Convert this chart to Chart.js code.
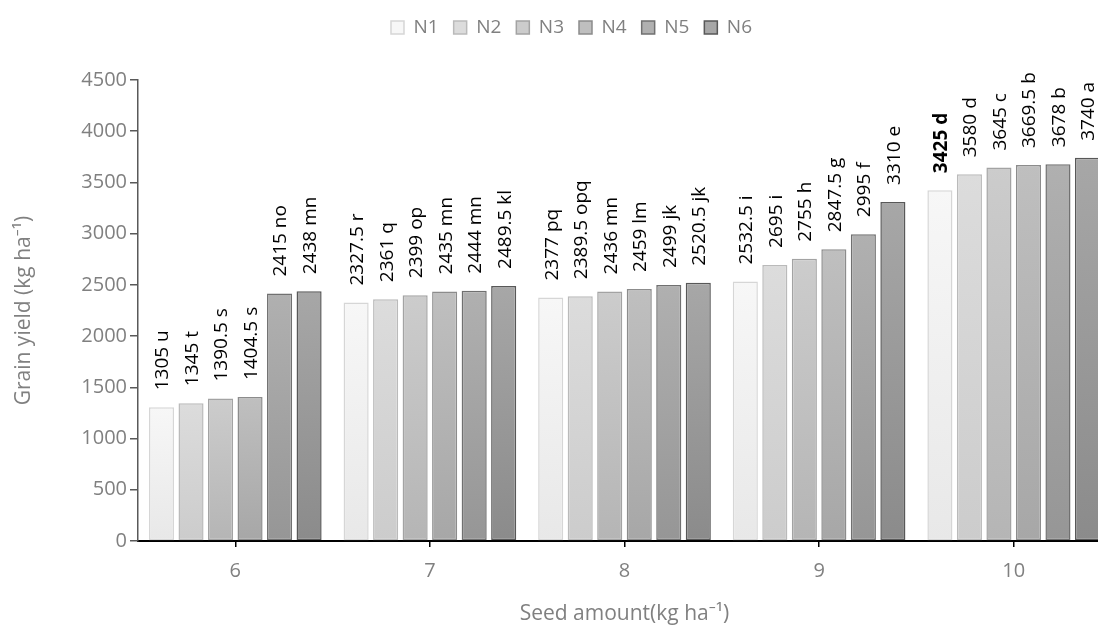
<!DOCTYPE html>
<html>
<head>
<meta charset="utf-8">
<script src="https://cdn.jsdelivr.net/npm/chart.js@4.4.0/dist/chart.umd.min.js"></script>
<style>
  html, body { margin: 0; padding: 0; background: #fff; overflow: hidden; }
  #wrap { width: 1098px; height: 639px; overflow: hidden; }
</style>
</head>
<body>
<div id="wrap"><canvas id="myChart" width="1111" height="639"></canvas></div>
<script>
// seed amount groups
var categories = ['6', '7', '8', '9', '10'];
var seriesNames = ['N1', 'N2', 'N3', 'N4', 'N5', 'N6'];

// grain yield per series (kg ha-1)
var n1 = [1305, 2327.5, 2377, 2532.5, 3425];
var n2 = [1345, 2361, 2389.5, 2695, 3580];
var n3 = [1390.5, 2399, 2436, 2755, 3645];
var n4 = [1404.5, 2435, 2459, 2847.5, 3669.5];
var n5 = [2415, 2444, 2499, 2995, 3678];
var n6 = [2438, 2489.5, 2520.5, 3310, 3740];

// significance letters
var n1Letters = ['u', 'r', 'pq', 'i', 'd'];
var n2Letters = ['t', 'q', 'opq', 'i', 'd'];
var n3Letters = ['s', 'op', 'mn', 'h', 'c'];
var n4Letters = ['s', 'mn', 'lm', 'g', 'b'];
var n5Letters = ['no', 'mn', 'jk', 'f', 'b'];
var n6Letters = ['mn', 'kl', 'jk', 'e', 'a'];

var yMin = 0, yMax = 4500, yStep = 500;

var seriesValues = [n1, n2, n3, n4, n5, n6];
var seriesLetters = [n1Letters, n2Letters, n3Letters, n4Letters, n5Letters, n6Letters];

// top / bottom gradient colours and borders
var fills = [
  ['#f7f7f7', '#e8e8e8'],
  ['#dcdcdc', '#cccccc'],
  ['#cccccc', '#b5b5b5'],
  ['#bfbfbf', '#a7a7a7'],
  ['#b0b0b0', '#969696'],
  ['#a7a7a7', '#8b8b8b']
];
var borders = ['#d6d6d6', '#bababa', '#a3a3a3', '#8c8c8c', '#707070', '#585858'];
var boldCell = { series: 0, index: 4 };

var FONT = "'Open Sans', 'Noto Sans', sans-serif";
var GREY = '#808080';
var LEGEND_DX = 16, LEGEND_DY = 33;

function barFill(i) {
  return function (c) {
    var chart = c.chart;
    if (c.type !== 'data' || !chart.chartArea || !chart.scales.y) return fills[i][1];
    var y = chart.scales.y;
    var top = y.getPixelForValue(c.raw);
    var bottom = y.getPixelForValue(0);
    var g = chart.ctx.createLinearGradient(0, top, 0, bottom);
    g.addColorStop(0, fills[i][0]);
    g.addColorStop(1, fills[i][1]);
    return g;
  };
}

var datasets = seriesNames.map(function (name, i) {
  return {
    label: name,
    data: seriesValues[i],
    backgroundColor: barFill(i),
    borderColor: borders[i],
    borderWidth: 1.5,
    borderSkipped: false,
    categoryPercentage: 0.91,
    barPercentage: 0.85
  };
});

var barLabels = {
  id: 'barLabels',
  afterDatasetsDraw: function (chart) {
    var ctx = chart.ctx;
    chart.data.datasets.forEach(function (ds, i) {
      var meta = chart.getDatasetMeta(i);
      meta.data.forEach(function (bar, j) {
        var bold = (i === boldCell.series && j === boldCell.index);
        ctx.save();
        ctx.translate(bar.x + 1.5, bar.y - 17);
        ctx.rotate(-Math.PI / 2);
        ctx.font = (bold ? 'bold ' : '') + '19px ' + FONT;
        ctx.fillStyle = '#000';
        ctx.textAlign = 'left';
        ctx.textBaseline = 'middle';
        ctx.fillText(ds.data[j] + ' ' + seriesLetters[i][j], 0, 0);
        ctx.restore();
      });
    });
  }
};

// move the legend to where it sits in the original
var legendShift = {
  id: 'legendShift',
  afterLayout: function (chart) {
    var lg = chart.legend;
    lg.left += LEGEND_DX; lg.right += LEGEND_DX;
    lg.top -= LEGEND_DY; lg.bottom -= LEGEND_DY;
  }
};

var ctx = document.getElementById('myChart').getContext('2d');
var myChart = new Chart(ctx, {
  type: 'bar',
  data: { labels: categories, datasets: datasets },
  plugins: [barLabels, legendShift],
  options: {
    responsive: false,
    animation: false,
    devicePixelRatio: 1,
    layout: { padding: { top: 36, right: 0, left: 0, bottom: 0 } },
    plugins: {
      tooltip: { enabled: false },
      legend: {
        position: 'top',
        labels: {
          boxWidth: 13,
          boxHeight: 13,
          padding: 15,
          color: GREY,
          font: { family: FONT, size: 19 }
        }
      }
    },
    scales: {
      x: {
        afterFit: function (s) { s.height = 98; },
        grid: { display: true, drawOnChartArea: false, offset: false, tickLength: 6, color: '#000', lineWidth: 1.5 },
        border: { display: true, color: '#000', width: 2 },
        ticks: { color: GREY, padding: 12, font: { family: FONT, size: 20 } },
        title: {
          display: true,
          text: 'Seed amount(kg ha\u207B\u00B9)',
          color: GREY,
          padding: { top: 0, bottom: 12 },
          font: { family: FONT, size: 21 }
        }
      },
      y: {
        min: yMin,
        max: yMax,
        afterFit: function (s) { s.width = 138; },
        grid: { display: true, drawOnChartArea: false, tickLength: 8, color: '#595959', lineWidth: 1.5 },
        border: { display: true, color: '#595959', width: 1.5 },
        ticks: {
          stepSize: yStep,
          color: GREY,
          padding: 3,
          font: { family: FONT, size: 20 },
          callback: function (v) { return String(v); }
        },
        title: {
          display: true,
          text: 'Grain yield (kg ha\u207B\u00B9)',
          color: GREY,
          padding: { top: 11, bottom: 0 },
          font: { family: FONT, size: 21 }
        }
      }
    }
  }
});
</script>
</body>
</html>
